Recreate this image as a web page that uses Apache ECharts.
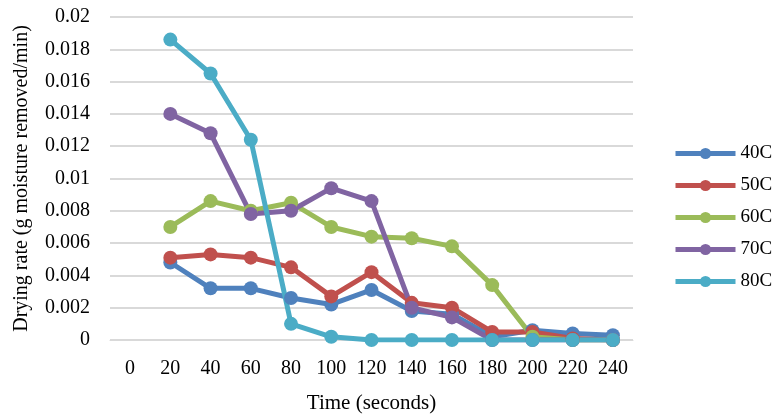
<!DOCTYPE html>
<html><head><meta charset="utf-8">
<script src="https://cdn.jsdelivr.net/npm/echarts@6/dist/echarts.min.js"></script>
<style>html,body{margin:0;padding:0;background:#fff}#c{width:776px;height:415px}</style>
</head><body><div id="c"></div>
<script>
var categories = ['0','20','40','60','80','100','120','140','160','180','200','220','240'];
var seriesNames = ['40C','50C','60C','70C','80C'];
var s40 = [null,0.0048,0.0032,0.0032,0.0026,0.0022,0.0031,0.0018,0.0016,0.0002,0.0006,0.0004,0.0003];
var s50 = [null,0.0051,0.0053,0.0051,0.0045,0.0027,0.0042,0.0023,0.0020,0.0005,0.0005,0.0001,0];
var s60 = [null,0.0070,0.0086,0.0080,0.0085,0.0070,0.0064,0.0063,0.0058,0.0034,0.0002,0,0];
var s70 = [null,0.0140,0.0128,0.0078,0.0080,0.0094,0.0086,0.0020,0.0014,0,0,0,0];
var s80 = [null,0.0186,0.0165,0.0124,0.0010,0.0002,0,0,0,0,0,0,0];
var colors = ['#4F81BD','#C0504D','#9BBB59','#8064A2','#4BACC6'];
var data = [s40,s50,s60,s70,s80];
var font = "'Liberation Serif', 'Times New Roman', serif";
var chart = echarts.init(document.getElementById('c'));
chart.setOption({
  animation:false,
  color: colors,
  textStyle:{fontFamily:font},
  grid:{left:110,right:143,top:17,bottom:75,containLabel:false,outerBoundsMode:'none'},
  legend:{
    orient:'vertical', left:673, top:144, padding:0, itemWidth:60, itemHeight:14, itemGap:13,
    lineStyle:{width:5},
    textStyle:{fontFamily:font,fontSize:19,color:'#000'},
    data: seriesNames
  },
  xAxis:{
    type:'category', data:categories, boundaryGap:true,
    name:'Time (seconds)', nameLocation:'middle', nameGap:53,
    nameTextStyle:{fontFamily:font,fontSize:21,color:'#000'},
    axisLine:{show:true,lineStyle:{color:'#d9d9d9',width:1}},
    axisTick:{show:false},
    axisLabel:{fontFamily:font,fontSize:20,color:'#000',margin:19,interval:0}
  },
  yAxis:{
    type:'value', min:0, max:0.02, interval:0.002,
    name:'Drying rate (g moisture removed/min)', nameLocation:'middle', nameGap:78,
    nameTextStyle:{fontFamily:font,fontSize:20,color:'#000'},
    axisLine:{show:false}, axisTick:{show:false},
    axisLabel:{fontFamily:font,fontSize:20,color:'#000',margin:20,
      formatter:function(v){return v===0?'0':String(parseFloat(v.toFixed(4)));}},
    splitLine:{lineStyle:{color:'#d9d9d9',width:2}}
  },
  series: seriesNames.map(function(n,i){
    return {name:n,type:'line',data:data[i],symbol:'circle',symbolSize:14,
      lineStyle:{width:5,color:colors[i]},itemStyle:{color:colors[i]},connectNulls:false};
  })
});
</script></body></html>
